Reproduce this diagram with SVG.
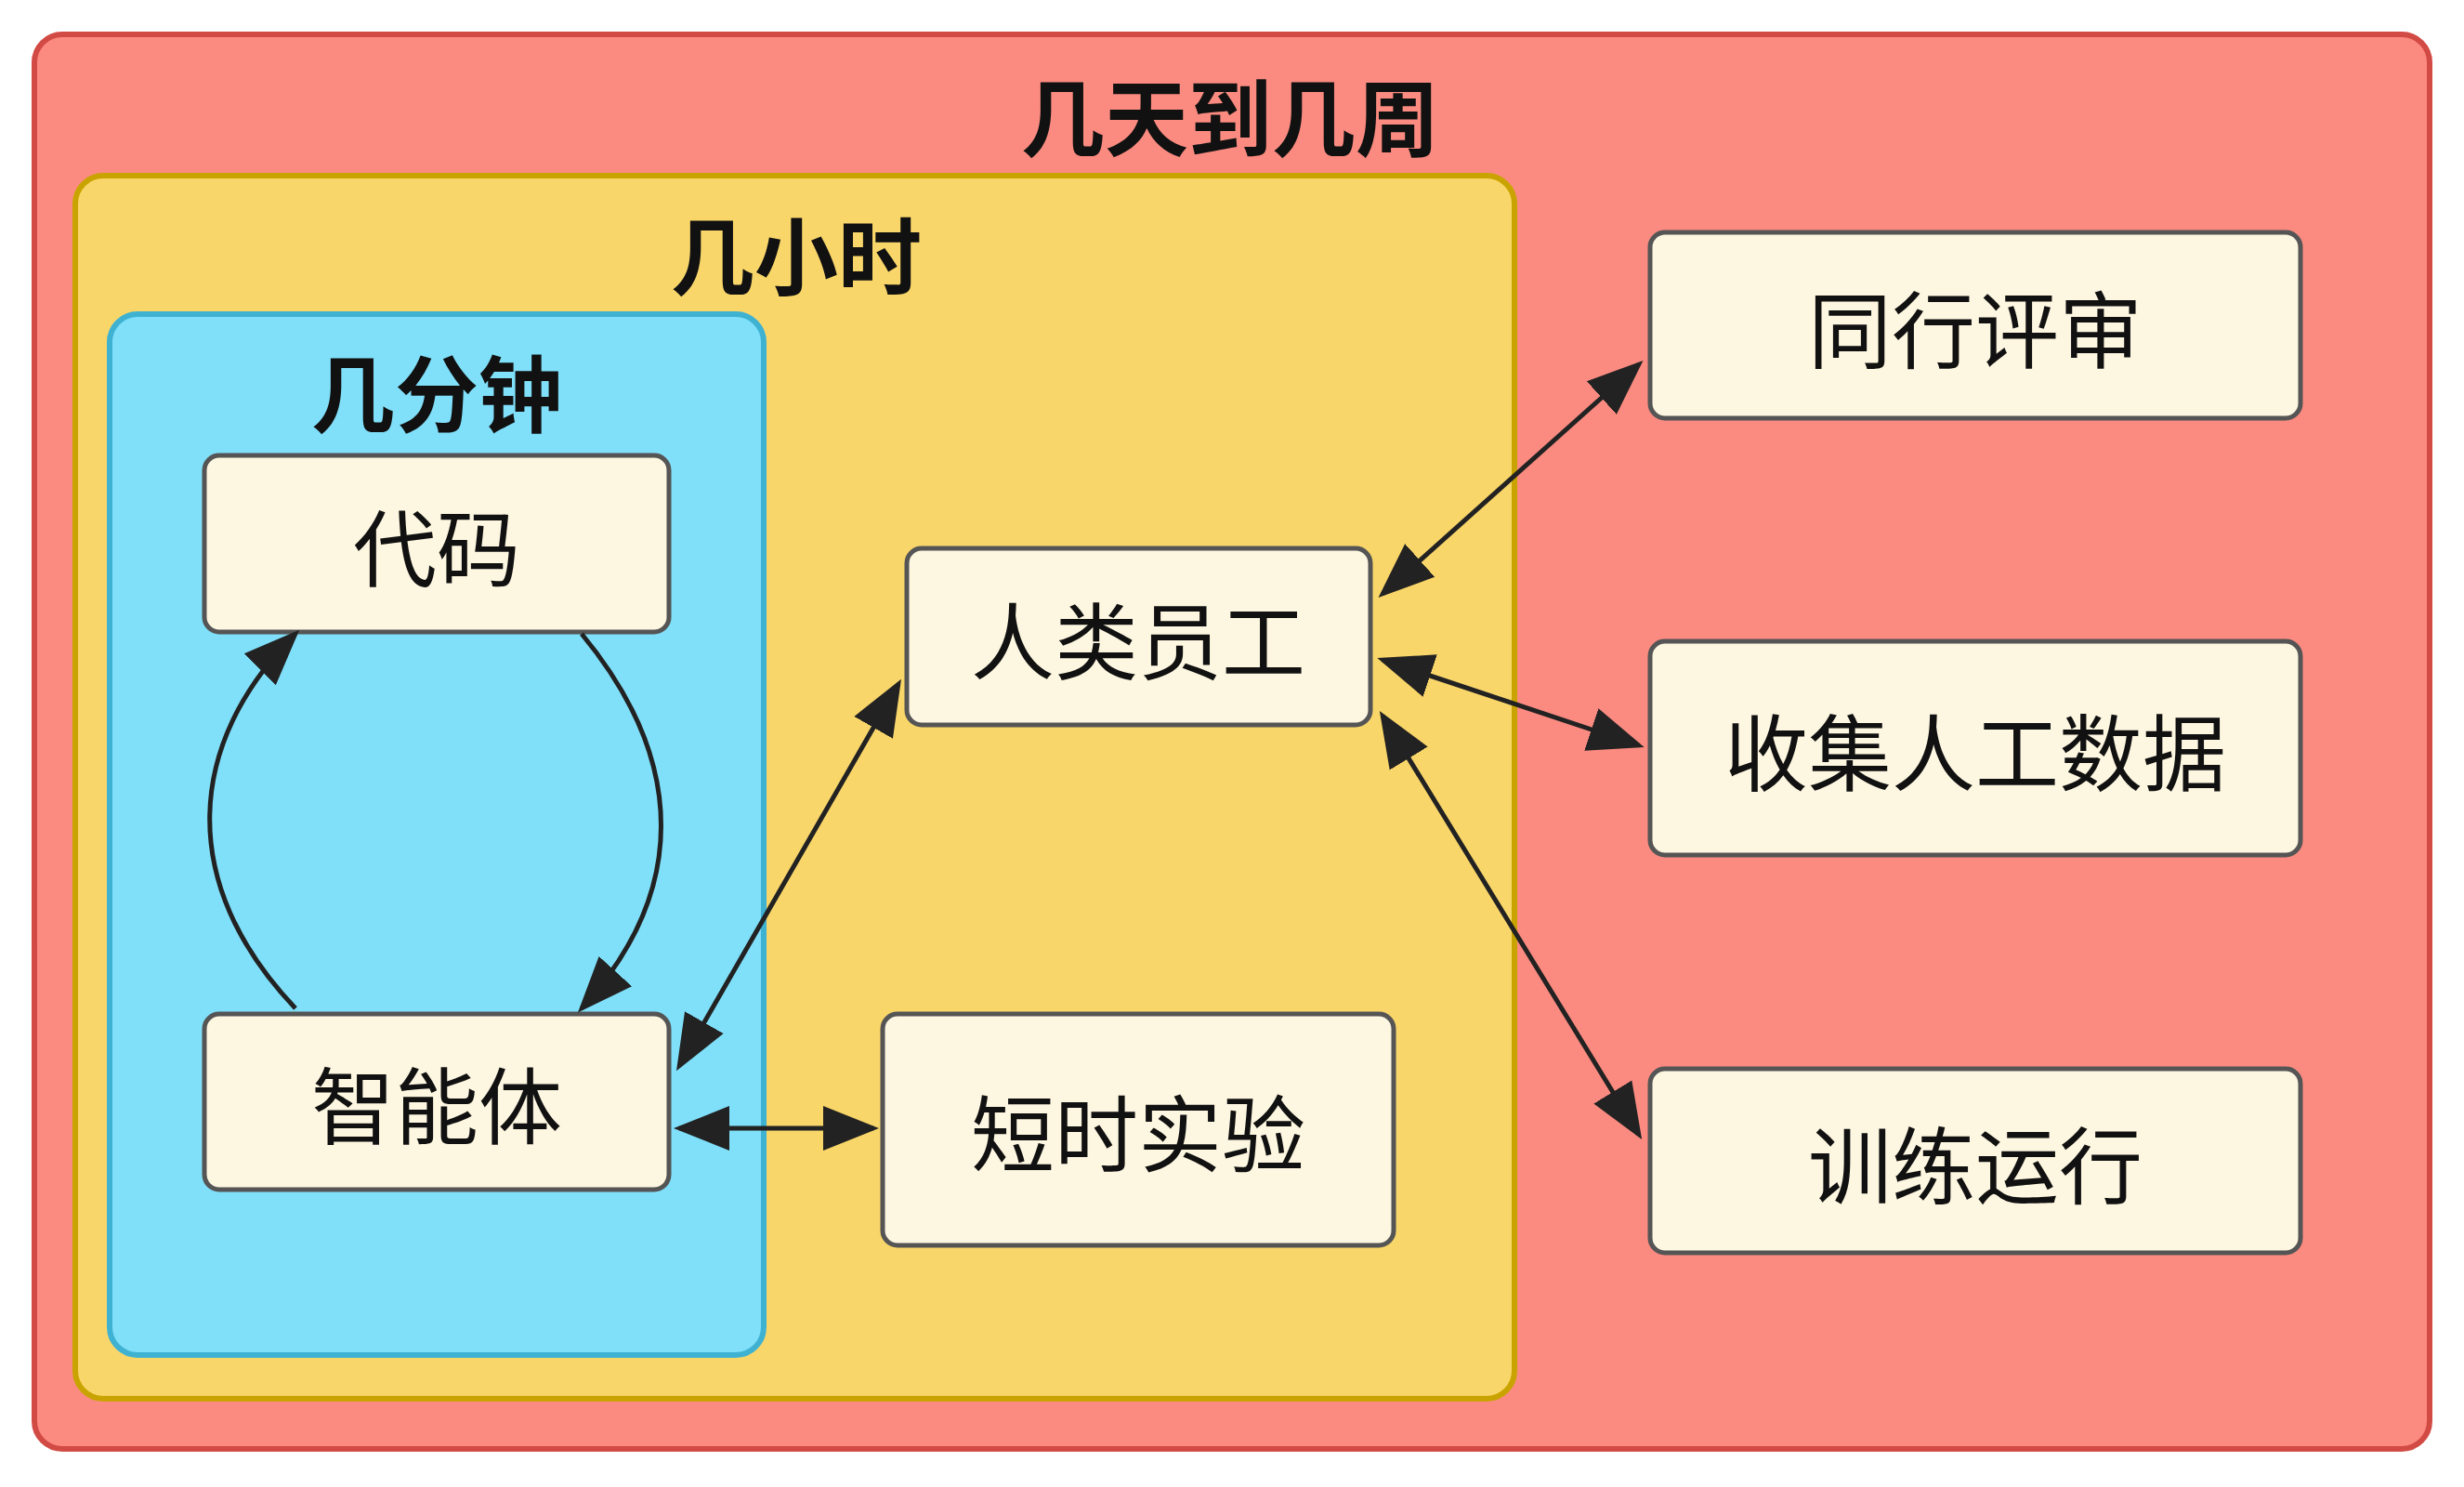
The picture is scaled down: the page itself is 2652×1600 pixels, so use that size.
<svg xmlns="http://www.w3.org/2000/svg" width="2652" height="1600" viewBox="0 0 2652 1600">
<style>
text{font-family:"Noto Sans CJK SC","Noto Sans",sans-serif;text-anchor:middle;dominant-baseline:central;fill:#111}
.t{font-weight:bold;font-size:90px}
.n{font-size:90px}
.box{fill:#fdf6e0;stroke:#555;stroke-width:5}
.c{fill:none;stroke:#222;stroke-width:5}
</style>
<defs>
<marker id="a" viewBox="0 0 10 10" refX="9" refY="5" markerWidth="8" markerHeight="8" markerUnits="userSpaceOnUse" orient="auto-start-reverse" style="overflow:visible">
<path d="M0,0L10,5L0,10z" fill="#222" transform="scale(5) translate(-2,-5) translate(2,5)"/>
</marker>
<marker id="m" viewBox="0 0 10 10" refX="9" refY="5" markerWidth="60" markerHeight="60" markerUnits="userSpaceOnUse" orient="auto-start-reverse">
<path d="M0,1L10,5L0,9z" fill="#222"/>
</marker>
</defs>
<rect width="2652" height="1600" fill="#fff"/>
<g id="days"><rect x="37" y="37" width="2578" height="1522" rx="30" fill="#fb8b80" stroke="#d24a44" stroke-width="6"/><text class="t" x="1324" y="122">几天到几周</text></g>
<g id="hours"><rect x="81" y="189" width="1549" height="1316" rx="30" fill="#f9d66a" stroke="#c9a400" stroke-width="6"/><text class="t" x="857" y="271">几小时</text></g>
<g id="minutes"><rect x="118" y="338" width="704" height="1120" rx="30" fill="#80dff9" stroke="#3fb2d2" stroke-width="6"/><text class="t" x="470" y="419">几分钟</text></g>
<g id="code"><rect class="box" x="220" y="490" width="500" height="190" rx="16"/><text class="n" x="470" y="585">代码</text></g>
<g id="agent"><rect class="box" x="220" y="1091" width="500" height="189" rx="16"/><text class="n" x="470" y="1185">智能体</text></g>
<g id="human"><rect class="box" x="976" y="590" width="499" height="190" rx="16"/><text class="n" x="1225" y="685">人类员工</text></g>
<g id="exp"><rect class="box" x="950" y="1091" width="550" height="249" rx="16"/><text class="n" x="1225" y="1215">短时实验</text></g>
<g id="review"><rect class="box" x="1776" y="250" width="700" height="200" rx="16"/><text class="n" x="2126" y="350">同行评审</text></g>
<g id="data"><rect class="box" x="1776" y="690" width="700" height="230" rx="16"/><text class="n" x="2126" y="805">收集人工数据</text></g>
<g id="train"><rect class="box" x="1776" y="1150" width="700" height="198" rx="16"/><text class="n" x="2126" y="1249">训练运行</text></g>
<g id="connectors">
<path class="c" d="M626,682 C740,820 740,960 626,1085" marker-end="url(#m)"/>
<path class="c" d="M318,1085 C190,950 200,800 318,682" marker-end="url(#m)"/>
<path class="c" d="M731,1147 L967,736" marker-start="url(#m)" marker-end="url(#m)"/>
<path class="c" d="M731,1214 L940,1214" marker-start="url(#m)" marker-end="url(#m)"/>
<path class="c" d="M1488,639 L1764,392" marker-start="url(#m)" marker-end="url(#m)"/>
<path class="c" d="M1488,710 L1764,802" marker-start="url(#m)" marker-end="url(#m)"/>
<path class="c" d="M1488,770 L1764,1221" marker-start="url(#m)" marker-end="url(#m)"/>
</g>
</svg>
